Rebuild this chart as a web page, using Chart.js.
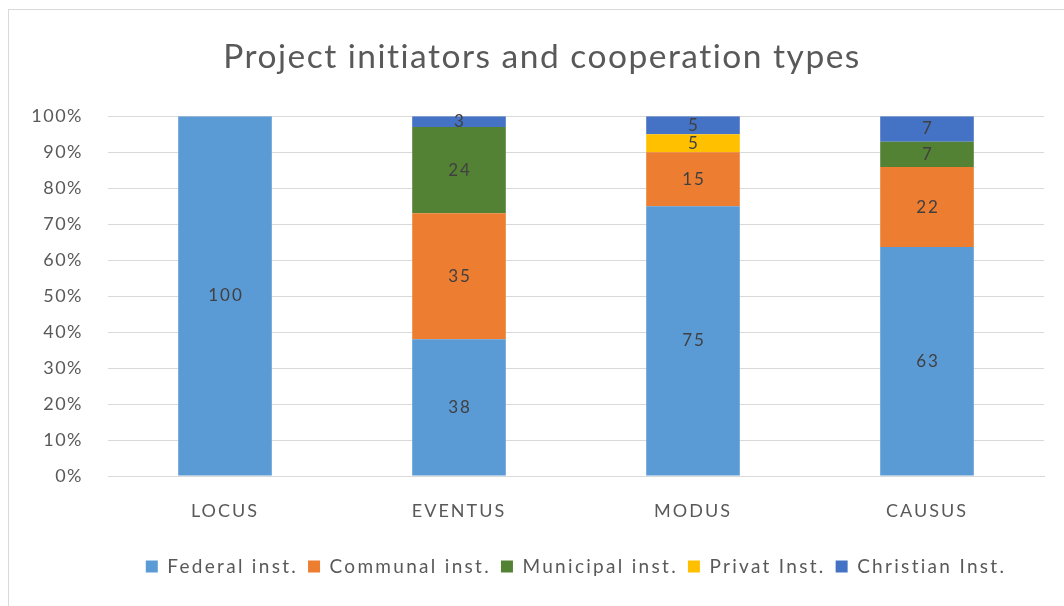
<!DOCTYPE html>
<html>
<head>
<meta charset="utf-8">
<script src="https://cdn.jsdelivr.net/npm/chart.js@4"></script>
<style>
  html, body { margin: 0; padding: 0; background: #fff; }
  #wrap { position: relative; width: 1064px; height: 606px; overflow: hidden; }
  #frame { position: absolute; left: 8px; top: 9px; width: 1100px; height: 700px; border: 1px solid #d9d9d9; box-sizing: border-box; }
  canvas { position: absolute; left: 0; top: 0; }
</style>
</head>
<body>
<div id="wrap">
  <div id="frame"></div>
  <canvas id="c" width="1064" height="606"></canvas>
</div>
<script>
const categories = ["LOCUS", "EVENTUS", "MODUS", "CAUSUS"];
const federal   = [100, 38, 75, 63];
const communal  = [0, 35, 15, 22];
const municipal = [0, 24, 0, 7];
const privat    = [0, 0, 5, 0];
const christian = [0, 3, 5, 7];
const seriesNames = ["Federal inst.", "Communal inst.", "Municipal inst.", "Privat Inst.", "Christian Inst."];
const yTickLabels = ["0%", "10%", "20%", "30%", "40%", "50%", "60%", "70%", "80%", "90%", "100%"];

const allSeries = [federal, communal, municipal, privat, christian];
const colors = ["#5B9BD5", "#ED7D31", "#548235", "#FFC000", "#4472C4"];
const totals = categories.map((_, i) => allSeries.reduce((s, arr) => s + arr[i], 0));

const datasets = allSeries.map((arr, k) => ({
  label: seriesNames[k],
  raw: arr,
  data: arr.map((v, i) => v / totals[i] * 100),
  backgroundColor: colors[k],
  borderWidth: 0,
  categoryPercentage: 1.0,
  barPercentage: 0.4
}));

const FONT = "Lato, 'Open Sans', sans-serif";

const labelPlugin = {
  id: 'valueLabels',
  afterLayout(chart) {
    // centre the title over the whole frame as in the reference
    if (chart.titleBlock) { chart.titleBlock.left = 20; chart.titleBlock.right = 1064; }
  },
  afterDatasetsDraw(chart) {
    const ctx = chart.ctx;
    ctx.save();
    ctx.letterSpacing = '2px';
    ctx.font = "17px " + FONT;
    ctx.fillStyle = "#404040";
    ctx.textAlign = "center";
    ctx.textBaseline = "middle";
    chart.data.datasets.forEach((ds, di) => {
      const meta = chart.getDatasetMeta(di);
      meta.data.forEach((bar, i) => {
        const v = ds.raw[i];
        if (!v) return;
        const p = bar.getProps(['x', 'y', 'base'], true);
        ctx.fillText(String(v), p.x + 1, (p.y + p.base) / 2);
      });
    });
    ctx.restore();
  }
};

const chart = new Chart(document.getElementById('c'), {
  type: 'bar',
  data: { labels: categories, datasets },
  plugins: [labelPlugin],
  options: {
    responsive: false,
    animation: false,
    layout: { padding: { left: 0, right: 20, top: 0, bottom: 20 } },
    plugins: {
      title: {
        display: true,
        text: "Project initiators and cooperation types",
        color: "#595959",
        font: { family: FONT, size: 33.5, weight: 'normal' },
        padding: { top: 37, bottom: 39 }
      },
      legend: {
        position: 'bottom',
        fullSize: false,
        labels: {
          color: "#595959",
          font: { family: FONT, size: 19 },
          boxWidth: 12,
          boxHeight: 12,
          padding: 10
        }
      },
      tooltip: { enabled: false }
    },
    scales: {
      x: {
        stacked: true,
        grid: { display: false, drawTicks: false },
        border: { display: true, color: "#d9d9d9" },
        ticks: { color: "#595959", font: { family: FONT, size: 18 }, padding: 24 },
        afterFit(scale) { scale.height = 71; }
      },
      y: {
        stacked: true,
        min: 0,
        max: 100,
        grid: { color: "#d9d9d9", drawTicks: false },
        border: { display: false },
        ticks: {
          stepSize: 10,
          color: "#595959",
          font: { family: FONT, size: 18 },
          padding: 25,
          callback: (v) => yTickLabels[Math.round(v / 10)]
        },
        afterFit(scale) { scale.width = 108; }
      }
    }
  }
});

function withSpacing(obj, method, sp) {
  if (!obj || typeof obj[method] !== 'function') return;
  const orig = obj[method];
  obj[method] = function (...args) {
    const c = this.ctx;
    const prev = c.letterSpacing;
    c.letterSpacing = sp;
    try { return orig.apply(this, args); } finally { c.letterSpacing = prev; }
  };
}
withSpacing(chart.titleBlock, 'draw', '1.5px');
withSpacing(chart.legend, 'fit', '2.3px');
withSpacing(chart.legend, 'draw', '2.3px');
withSpacing(chart.scales.x, 'draw', '2px');
withSpacing(chart.scales.y, 'draw', '1.5px');
chart.update();
</script>
</body>
</html>
